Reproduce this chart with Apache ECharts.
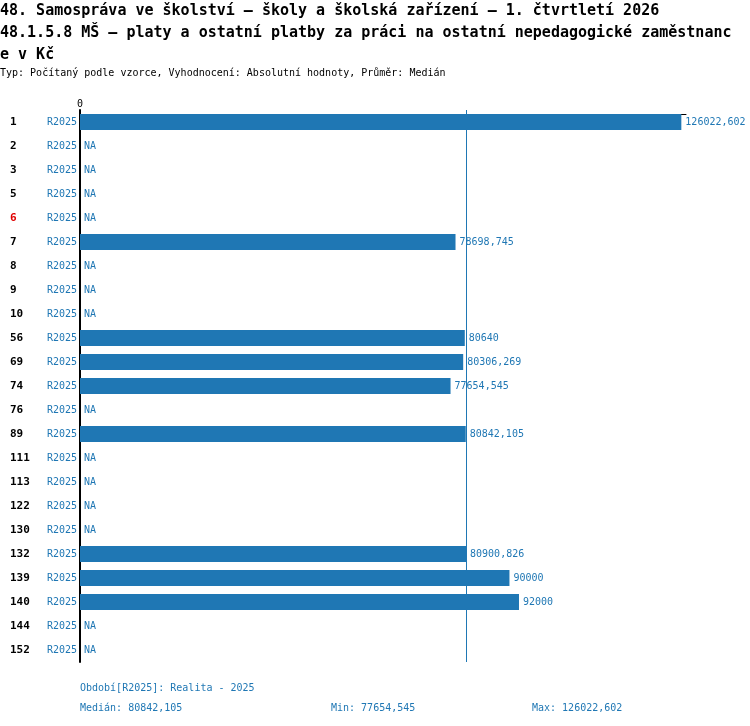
<!DOCTYPE html>
<html>

<head>
    <meta charset="utf-8">
    <title>48.1.5.8 MŠ</title>
    <script type="text/javascript" src="https://cdn.jsdelivr.net/npm/echarts@6/dist/echarts.min.js"></script>
    <style>
        html, body { margin: 0; padding: 0; background: #fff; }
    </style>
</head>

<body>
    <div id="main" style="width: 750px; height: 726px;"></div>
    <script type="text/javascript">
    // data
    var categories = ['1', '2', '3', '5', '6', '7', '8', '9', '10', '56', '69', '74', '76', '89',
        '111', '113', '122', '130', '132', '139', '140', '144', '152'];
    var period = 'R2025';
    var values = [126022.602, null, null, null, null, 78698.745, null, null, null, 80640, 80306.269,
        77654.545, null, 80842.105, null, null, null, null, 80900.826, 90000, 92000, null, null];
    var highlighted = ['6'];

    var blue = '#1f77b4';
    var mono = 'DejaVu Sans Mono';

    function fmt(v) {
        return String(Math.round(v * 1000) / 1000).replace('.', ',');
    }

    var known = values.filter(function(v) { return v !== null; }).sort(function(a, b) { return a - b; });
    var mid = Math.floor(known.length / 2);
    var median = known.length % 2 ? known[mid] : (known[mid - 1] + known[mid]) / 2;
    var minV = known[0];
    var maxV = known[known.length - 1];

    var myChart = echarts.init(document.getElementById('main'));

    // small texts (subtitle + footer) share one style
    function small(color) {
        return { fontFamily: mono, fontSize: 10, fontWeight: 'normal', color: color };
    }

    var option = {
        animation: false,
        backgroundColor: '#fff',
        textStyle: { fontFamily: mono },
        title: [{
            text: '48. Samospráva ve školství – školy a školská zařízení – 1. čtvrtletí 2026\n' +
                '48.1.5.8 MŠ – platy a ostatní platby za práci na ostatní nepedagogické zaměstnanc\n' +
                'e v Kč',
            left: 0,
            top: 0,
            padding: 0,
            textStyle: { fontFamily: mono, fontSize: 15, fontWeight: 'bold', color: '#000', lineHeight: 22 }
        }, {
            text: 'Typ: Počítaný podle vzorce, Vyhodnocení: Absolutní hodnoty, Průměr: Medián',
            left: 0, top: 68, padding: 0,
            textStyle: small('#000')
        }, {
            text: 'Období[' + period + ']: Realita - 2025',
            left: 80, top: 683, padding: 0,
            textStyle: small(blue)
        }, {
            text: 'Medián: ' + fmt(median),
            left: 80, top: 703, padding: 0,
            textStyle: small(blue)
        }, {
            text: 'Min: ' + fmt(minV),
            left: 331, top: 703, padding: 0,
            textStyle: small(blue)
        }, {
            text: 'Max: ' + fmt(maxV),
            left: 532, top: 703, padding: 0,
            textStyle: small(blue)
        }],
        grid: { left: 80, right: 64, top: 110, height: 552, containLabel: false },
        xAxis: {
            type: 'value',
            position: 'top',
            offset: -4,
            min: 0,
            max: 127000,
            splitLine: { show: false },
            axisTick: { show: false },
            axisLine: { show: true, lineStyle: { color: '#000', width: 1 } },
            axisLabel: {
                margin: 5,
                fontFamily: mono,
                fontSize: 10,
                color: '#000',
                showMaxLabel: false,
                formatter: function(v) { return v === 0 ? '0' : ''; }
            }
        },
        yAxis: {
            type: 'category',
            inverse: true,
            data: categories,
            axisTick: { show: false },
            axisLine: { show: true, lineStyle: { color: '#000', width: 2 } },
            axisLabel: {
                margin: 3,
                formatter: function(v) {
                    var tag = highlighted.indexOf(v) >= 0 ? 'm' : 'n';
                    return '{' + tag + '|' + v + '}{r|' + period + '}';
                },
                rich: {
                    n: { width: 37, align: 'left', fontFamily: mono, fontSize: 11, fontWeight: 'bold', color: '#000' },
                    m: { width: 37, align: 'left', fontFamily: mono, fontSize: 11, fontWeight: 'bold', color: '#e00000' },
                    r: { fontFamily: mono, fontSize: 10, color: blue }
                }
            }
        },
        series: [{
            type: 'bar',
            barWidth: 16,
            itemStyle: { color: blue },
            label: {
                show: true,
                position: 'right',
                distance: 4,
                fontFamily: mono,
                fontSize: 10,
                color: blue,
                formatter: function(p) { return fmt(p.value); }
            },
            data: values.map(function(v) {
                return v === null ? { value: 0, label: { formatter: 'NA' } } : v;
            }),
            markLine: {
                silent: true,
                symbol: 'none',
                label: { show: false },
                lineStyle: { color: blue, width: 1, type: 'solid' },
                data: [{ xAxis: median }]
            }
        }]
    };

    myChart.setOption(option);
    </script>
</body>

</html>
